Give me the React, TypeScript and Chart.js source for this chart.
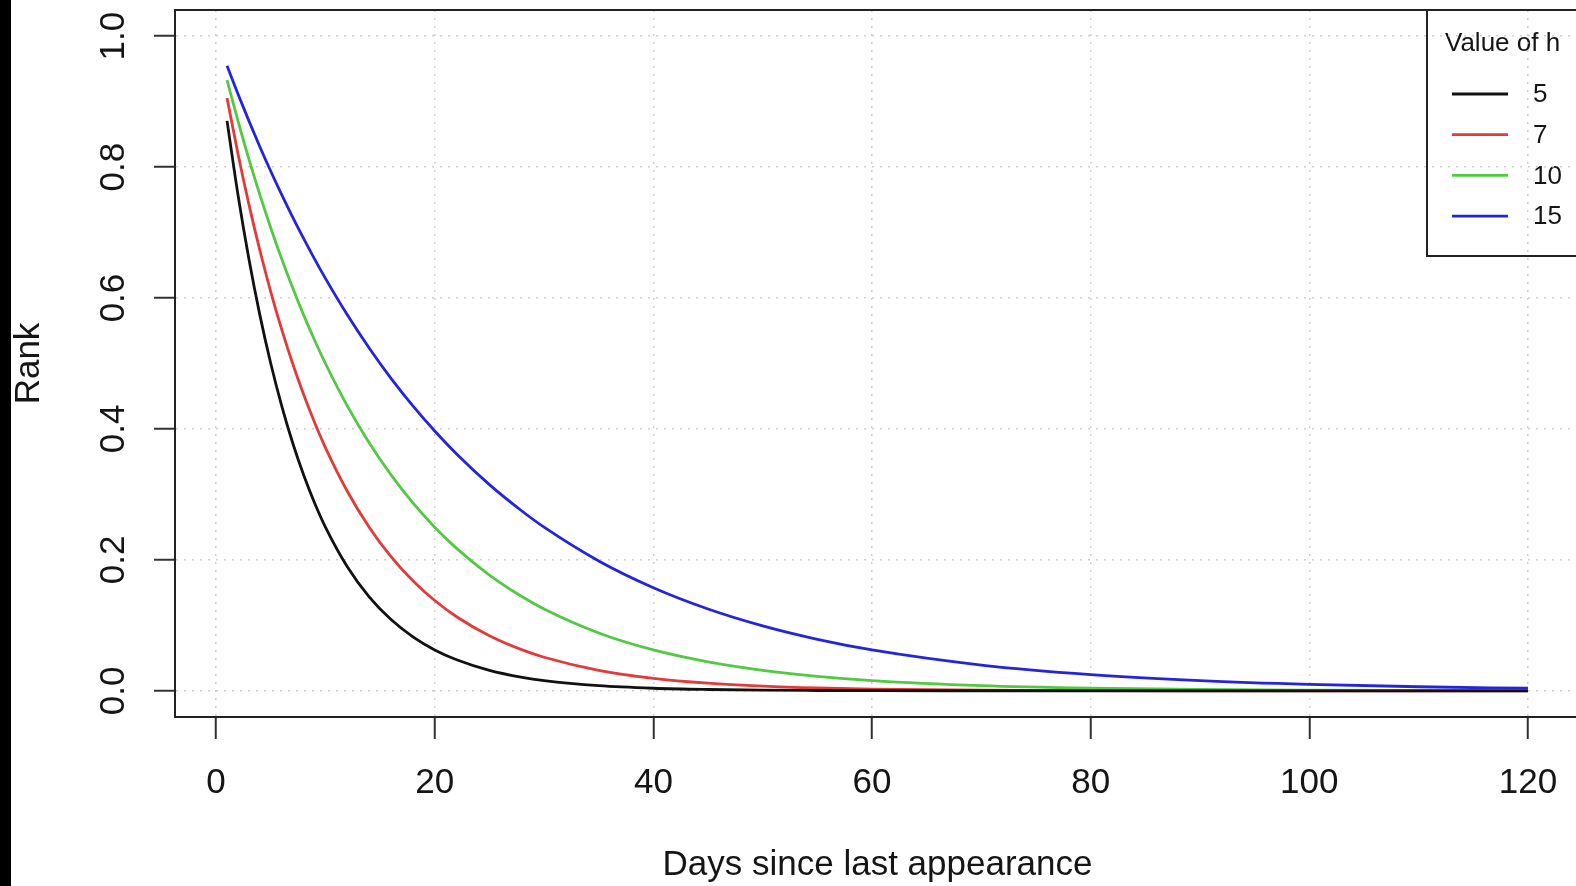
import React, { useEffect, useRef } from "react";
import { Chart, registerables } from "chart.js";

Chart.register(...registerables);

// ---- data ----
const DAYS = [1, 2, 3, 4, 5, 6, 7, 8, 9, 10, 12, 14, 16, 18, 20, 22, 25, 28, 30, 35, 40, 45, 50, 55, 60, 70, 80, 90, 100, 110, 120];
const RANK_H5 = [0.8706, 0.7579, 0.6598, 0.5743, 0.5, 0.4353, 0.3789, 0.3299, 0.2872, 0.25, 0.1895, 0.1436, 0.1088, 0.0825, 0.0625, 0.0474, 0.0313, 0.0206, 0.0156, 0.0078, 0.0039, 0.002, 0.001, 0.0005, 0.0002, 0.0001, 0, 0, 0, 0, 0];
const RANK_H7 = [0.9057, 0.8203, 0.743, 0.673, 0.6095, 0.552, 0.5, 0.4529, 0.4102, 0.3715, 0.3048, 0.25, 0.2051, 0.1682, 0.138, 0.1132, 0.0841, 0.0625, 0.0513, 0.0313, 0.019, 0.0116, 0.0071, 0.0043, 0.0026, 0.001, 0.0004, 0.0001, 0.0001, 0, 0];
const RANK_H10 = [0.933, 0.8706, 0.8123, 0.7579, 0.7071, 0.6598, 0.6156, 0.5743, 0.5359, 0.5, 0.4353, 0.3789, 0.3299, 0.2872, 0.25, 0.2176, 0.1768, 0.1436, 0.125, 0.0884, 0.0625, 0.0442, 0.0313, 0.0221, 0.0156, 0.0078, 0.0039, 0.002, 0.001, 0.0005, 0.0002];
const RANK_H15 = [0.9548, 0.9117, 0.8706, 0.8312, 0.7937, 0.7579, 0.7236, 0.691, 0.6598, 0.63, 0.5743, 0.5236, 0.4774, 0.4353, 0.3969, 0.3618, 0.315, 0.2743, 0.25, 0.1984, 0.1575, 0.125, 0.0992, 0.0787, 0.0625, 0.0394, 0.0248, 0.0156, 0.0098, 0.0062, 0.0039];

const SERIES_LABELS = ["5", "7", "10", "15"];
const SERIES_VALUES = [RANK_H5, RANK_H7, RANK_H10, RANK_H15];
const SERIES_COLORS = ["#111111", "#e23a3a", "#52c843", "#2424dc"];

const X_TICKS = [0, 20, 40, 60, 80, 100, 120];
const X_TICK_LABELS = ["0", "20", "40", "60", "80", "100", "120"];
const Y_TICKS = [0, 0.2, 0.4, 0.6, 0.8, 1.0];
const Y_TICK_LABELS = ["0.0", "0.2", "0.4", "0.6", "0.8", "1.0"];

const X_TITLE = "Days since last appearance";
const Y_TITLE = "Rank";
const LEGEND_TITLE = "Value of h";

const X_MIN = -3.76;
const X_MAX = 124.76;
const Y_MIN = -0.04;
const Y_MAX = 1.04;

const FONT = "'Liberation Sans', Arial, Helvetica, sans-serif";
const TEXT_COLOR = "#151515";

const rPlotPlugin = {
  id: "rPlot",
  beforeDraw(chart: any) {
    const ctx = chart.ctx;
    const a = chart.chartArea;
    ctx.save();
    ctx.fillStyle = "#ffffff";
    ctx.fillRect(0, 0, chart.width, chart.height);
    ctx.fillStyle = "#000000";
    ctx.fillRect(0, 0, 11, chart.height);

    // legend (drawn before the grid so the dotted grid shows through it)
    const left = a.right - 153;
    const top = a.top;
    ctx.strokeStyle = "#222222";
    ctx.lineWidth = 2;
    ctx.strokeRect(left, top, 200, 246);
    ctx.fillStyle = TEXT_COLOR;
    ctx.font = `26px ${FONT}`;
    ctx.textAlign = "left";
    ctx.textBaseline = "middle";
    ctx.fillText(LEGEND_TITLE, left + 18, top + 34);
    chart.data.datasets.forEach((ds: any, i: number) => {
      const y = top + 84 + i * 40.7;
      ctx.strokeStyle = ds.borderColor;
      ctx.lineWidth = 2.8;
      ctx.beginPath();
      ctx.moveTo(left + 25, y);
      ctx.lineTo(left + 81, y);
      ctx.stroke();
      ctx.fillStyle = TEXT_COLOR;
      ctx.fillText(ds.label, left + 106, y + 1);
    });
    ctx.restore();
  },
  beforeDatasetsDraw(chart: any) {
    const ctx = chart.ctx;
    const a = chart.chartArea;
    ctx.save();
    ctx.strokeStyle = "#222222";
    ctx.lineWidth = 2;
    ctx.strokeRect(a.left, a.top, a.right - a.left, a.bottom - a.top);
    ctx.restore();
  },
};

export default function App() {
  const ref = useRef<HTMLCanvasElement>(null);

  useEffect(() => {
    const canvas = ref.current;
    if (!canvas) return;
    const gridCommon = {
      color: "#cfcfcf",
      lineWidth: 1.5,
      drawTicks: true,
      tickColor: "#333333",
      tickWidth: 2,
    };
    const borderCommon = { display: true, color: "#222222", width: 2, dash: [2, 6] };
    const zeroPad = (s: any) => {
      s.paddingLeft = 0;
      s.paddingRight = 0;
      s.paddingTop = 0;
      s.paddingBottom = 0;
    };

    const chart = new Chart(canvas, {
      type: "line",
      data: {
        datasets: SERIES_LABELS.map((label, i) => ({
          label,
          data: DAYS.map((d, j) => ({ x: d, y: SERIES_VALUES[i][j] })),
          borderColor: SERIES_COLORS[i],
          backgroundColor: SERIES_COLORS[i],
          borderWidth: 2.8,
          pointRadius: 0,
          fill: false,
          cubicInterpolationMode: "monotone" as const,
        })),
      },
      options: {
        responsive: false,
        animation: false,
        devicePixelRatio: 1,
        layout: { padding: { left: 0, top: 10, right: 20, bottom: 0 }, autoPadding: false },
        plugins: { legend: { display: false }, tooltip: { enabled: false } },
        scales: {
          x: {
            type: "linear",
            min: X_MIN,
            max: X_MAX,
            afterBuildTicks: (s: any) => {
              s.ticks = X_TICKS.map((v) => ({ value: v }));
            },
            afterFit: (s: any) => {
              s.height = 169;
              zeroPad(s);
            },
            grid: { ...gridCommon, tickLength: 22 },
            border: borderCommon,
            ticks: {
              autoSkip: false,
              maxRotation: 0,
              minRotation: 0,
              padding: 23,
              color: TEXT_COLOR,
              font: { family: FONT, size: 35 },
              callback: (_v: any, i: number) => X_TICK_LABELS[i],
            },
            title: {
              display: true,
              text: X_TITLE,
              color: TEXT_COLOR,
              font: { family: FONT, size: 35, lineHeight: 1.2 },
              padding: { top: 0, bottom: 0 },
            },
          },
          y: {
            type: "linear",
            min: Y_MIN,
            max: Y_MAX,
            afterBuildTicks: (s: any) => {
              s.ticks = Y_TICKS.map((v) => ({ value: v }));
            },
            afterFit: (s: any) => {
              s.width = 175;
              zeroPad(s);
            },
            grid: { ...gridCommon, tickLength: 21 },
            border: borderCommon,
            ticks: {
              autoSkip: false,
              minRotation: 90,
              maxRotation: 90,
              crossAlign: "center",
              padding: 15,
              color: TEXT_COLOR,
              font: { family: FONT, size: 35 },
              callback: (_v: any, i: number) => Y_TICK_LABELS[i],
            },
            title: {
              display: true,
              text: Y_TITLE,
              color: TEXT_COLOR,
              font: { family: FONT, size: 35, lineHeight: 1.2 },
              padding: { top: 8, bottom: 0 },
            },
          },
        },
      },
      plugins: [rPlotPlugin],
    } as any);
    return () => chart.destroy();
  }, []);

  return (
    <div
      style={{
        position: "fixed",
        left: 0,
        top: 0,
        width: 1576,
        height: 886,
        overflow: "hidden",
        background: "#ffffff",
      }}
    >
      <canvas ref={ref} width={1600} height={886} style={{ display: "block" }} />
    </div>
  );
}
